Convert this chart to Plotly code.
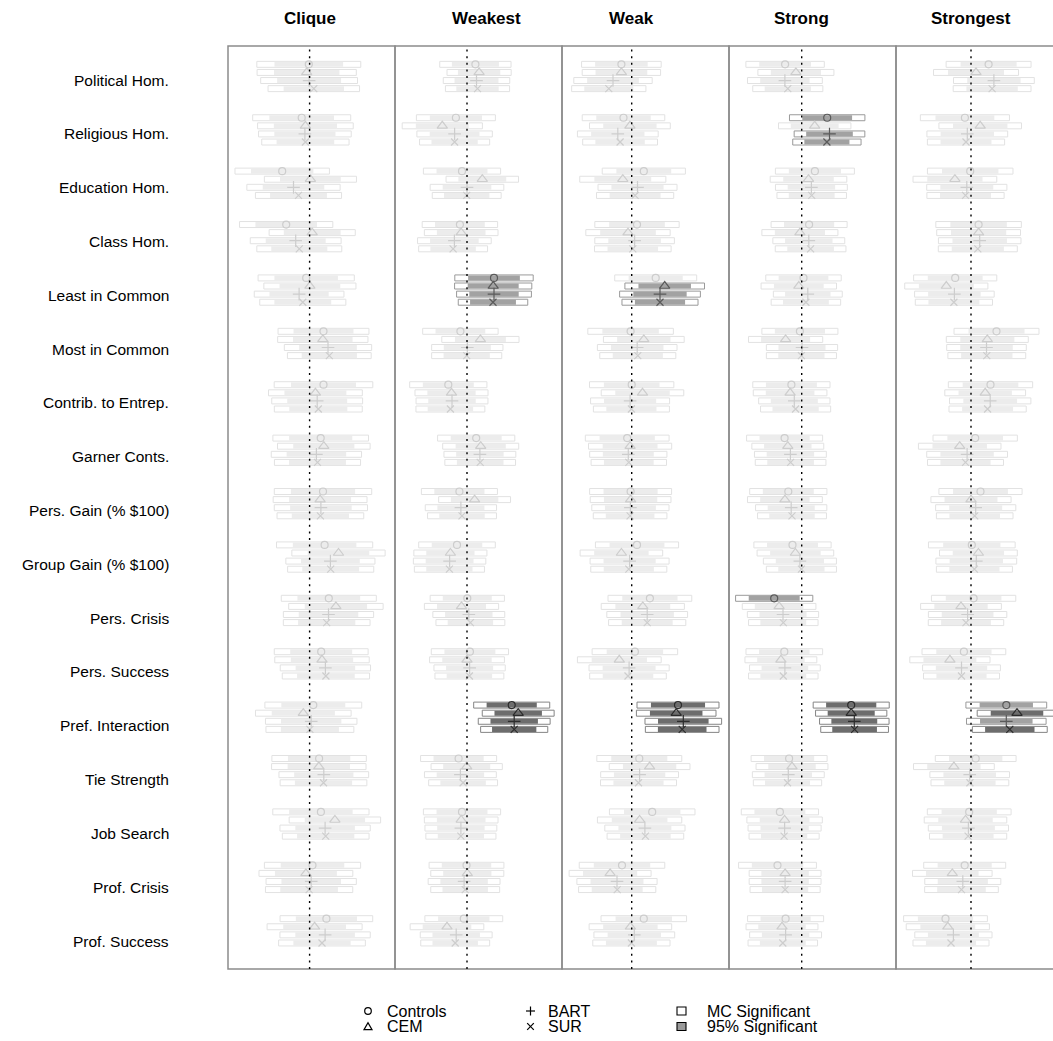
import plotly.graph_objects as go

# ---------------------------------------------------------------------------
# Data: treatment effects of each tie type on 17 outcomes, estimated four ways
# ---------------------------------------------------------------------------
OUTCOMES = [
    "Political Hom.", "Religious Hom.", "Education Hom.", "Class Hom.",
    "Least in Common", "Most in Common", "Contrib. to Entrep.", "Garner Conts.",
    "Pers. Gain (% $100)", "Group Gain (% $100)", "Pers. Crisis", "Pers. Success",
    "Pref. Interaction", "Tie Strength", "Job Search", "Prof. Crisis", "Prof. Success",
]
PANELS = ["Clique", "Weakest", "Weak", "Strong", "Strongest"]
METHODS = ["Controls", "CEM", "BART", "SUR"]

# point estimates: one row per outcome, columns ordered as METHODS
clique_est = [
    [-0.008, -0.029, -0.005, 0.042], [-0.079, -0.042, -0.047, -0.042],
    [-0.274, 0.008, -0.161, -0.111], [-0.234, 0.026, -0.139, -0.103],
    [-0.034, 0.003, -0.105, -0.068], [0.139, 0.132, 0.184, 0.197],
    [0.139, 0.058, 0.076, 0.087], [0.111, 0.142, 0.068, 0.079],
    [0.134, 0.105, 0.113, 0.108], [0.150, 0.289, 0.208, 0.211],
    [0.192, 0.263, 0.189, 0.171], [0.116, 0.124, 0.158, 0.163],
    [0.037, -0.063, 0.016, 0.003], [0.095, 0.092, 0.142, 0.139],
    [0.113, 0.253, 0.155, 0.161], [0.029, -0.037, 0.016, -0.005],
    [0.168, 0.050, 0.155, 0.124],
]
clique_se = [
    [0.175, 0.167, 0.163, 0.154], [0.165, 0.161, 0.156, 0.147],
    [0.159, 0.155, 0.157, 0.145], [0.157, 0.145, 0.153, 0.143],
    [0.162, 0.155, 0.151, 0.145], [0.153, 0.152, 0.147, 0.141],
    [0.166, 0.158, 0.153, 0.148], [0.161, 0.156, 0.152, 0.145],
    [0.164, 0.158, 0.157, 0.146], [0.162, 0.157, 0.150, 0.145],
    [0.160, 0.159, 0.152, 0.146], [0.158, 0.159, 0.152, 0.147],
    [0.163, 0.161, 0.154, 0.148], [0.159, 0.159, 0.151, 0.146],
    [0.162, 0.154, 0.152, 0.146], [0.162, 0.158, 0.152, 0.147],
    [0.156, 0.160, 0.152, 0.146],
]

weakest_est = [
    [0.084, 0.121, 0.095, 0.105], [-0.111, -0.247, -0.124, -0.124],
    [-0.050, 0.153, 0.000, -0.003], [-0.071, -0.058, -0.126, -0.139],
    [0.270, 0.262, 0.270, 0.260], [-0.066, 0.134, 0.003, -0.003],
    [-0.187, -0.155, -0.150, -0.166], [0.092, 0.137, 0.129, 0.132],
    [-0.076, 0.076, -0.061, -0.050], [-0.100, -0.166, -0.174, -0.176],
    [0.003, -0.055, 0.018, 0.034], [0.029, 0.000, 0.026, 0.024],
    [0.447, 0.512, 0.472, 0.472], [-0.084, -0.003, -0.066, -0.039],
    [-0.050, -0.058, -0.061, -0.061], [-0.005, 0.003, -0.029, -0.018],
    [-0.032, -0.200, -0.108, -0.118],
]
weakest_se = [
    [0.120, 0.108, 0.112, 0.108], [0.133, 0.135, 0.127, 0.118],
    [0.130, 0.122, 0.124, 0.116], [0.127, 0.124, 0.124, 0.116],
    [0.132, 0.130, 0.126, 0.117], [0.127, 0.130, 0.120, 0.118],
    [0.130, 0.123, 0.121, 0.116], [0.130, 0.128, 0.121, 0.119],
    [0.128, 0.121, 0.120, 0.116], [0.129, 0.123, 0.122, 0.118],
    [0.125, 0.125, 0.121, 0.116], [0.130, 0.126, 0.120, 0.116],
    [0.128, 0.121, 0.121, 0.113], [0.128, 0.120, 0.121, 0.116],
    [0.130, 0.124, 0.121, 0.118], [0.126, 0.123, 0.121, 0.116],
    [0.131, 0.124, 0.121, 0.116],
]

weak_est = [
    [-0.103, -0.103, -0.187, -0.229], [-0.082, -0.018, -0.139, -0.116],
    [0.121, -0.089, 0.058, 0.034], [0.053, -0.037, 0.029, 0.011],
    [0.240, 0.330, 0.283, 0.283], [-0.011, 0.121, 0.055, 0.061],
    [0.000, 0.108, -0.016, -0.003], [-0.045, -0.016, -0.034, -0.029],
    [-0.011, -0.011, -0.013, -0.016], [0.053, -0.103, -0.021, -0.029],
    [0.182, 0.111, 0.155, 0.155], [0.032, -0.124, -0.026, -0.037],
    [0.463, 0.445, 0.516, 0.505], [0.076, 0.179, 0.079, 0.068],
    [0.205, 0.079, 0.132, 0.137], [-0.097, -0.216, -0.147, -0.145],
    [0.121, -0.013, 0.026, -0.003],
]
weak_se = [
    [0.134, 0.132, 0.132, 0.125], [0.139, 0.136, 0.136, 0.126],
    [0.140, 0.145, 0.133, 0.130], [0.142, 0.142, 0.134, 0.129],
    [0.138, 0.134, 0.136, 0.128], [0.144, 0.136, 0.134, 0.128],
    [0.142, 0.139, 0.133, 0.128], [0.141, 0.140, 0.130, 0.127],
    [0.138, 0.136, 0.130, 0.124], [0.140, 0.139, 0.133, 0.128],
    [0.141, 0.140, 0.136, 0.130], [0.144, 0.141, 0.135, 0.129],
    [0.138, 0.134, 0.129, 0.124], [0.143, 0.136, 0.131, 0.128],
    [0.144, 0.142, 0.135, 0.129], [0.144, 0.138, 0.135, 0.130],
    [0.144, 0.139, 0.136, 0.130],
]

strong_est = [
    [-0.166, -0.058, -0.168, -0.139], [0.255, 0.130, 0.278, 0.252],
    [0.132, 0.068, 0.097, 0.100], [0.074, -0.018, 0.071, 0.089],
    [0.018, -0.029, 0.061, 0.042], [-0.018, -0.161, 0.003, -0.003],
    [-0.103, -0.116, -0.074, -0.061], [-0.171, -0.139, -0.113, -0.111],
    [-0.134, -0.168, -0.105, -0.097], [-0.092, -0.063, -0.018, -0.003],
    [-0.275, -0.226, -0.187, -0.184], [-0.174, -0.208, -0.168, -0.184],
    [0.495, 0.495, 0.526, 0.529], [-0.126, -0.097, -0.134, -0.142],
    [-0.218, -0.171, -0.171, -0.176], [-0.242, -0.166, -0.166, -0.166],
    [-0.161, -0.197, -0.161, -0.189],
]
strong_se = [
    [0.132, 0.128, 0.126, 0.118], [0.127, 0.122, 0.119, 0.115],
    [0.133, 0.129, 0.121, 0.117], [0.128, 0.128, 0.121, 0.119],
    [0.127, 0.127, 0.116, 0.117], [0.128, 0.125, 0.120, 0.118],
    [0.130, 0.124, 0.120, 0.118], [0.128, 0.121, 0.121, 0.119],
    [0.130, 0.126, 0.120, 0.116], [0.130, 0.129, 0.123, 0.118],
    [0.130, 0.124, 0.120, 0.117], [0.129, 0.121, 0.119, 0.117],
    [0.128, 0.120, 0.117, 0.114], [0.128, 0.121, 0.121, 0.115],
    [0.130, 0.127, 0.123, 0.118], [0.131, 0.121, 0.121, 0.118],
    [0.128, 0.121, 0.121, 0.117],
]

strongest_est = [
    [0.176, 0.050, 0.229, 0.211], [-0.061, 0.092, -0.037, -0.050],
    [-0.008, -0.161, -0.042, -0.055], [0.076, 0.076, 0.087, 0.068],
    [-0.158, -0.247, -0.166, -0.171], [0.255, 0.163, 0.155, 0.158],
    [0.195, 0.142, 0.192, 0.166], [0.042, -0.113, -0.039, -0.055],
    [0.095, 0.000, 0.047, 0.037], [0.008, 0.074, 0.053, 0.034],
    [0.026, -0.100, -0.034, -0.050], [-0.071, -0.211, -0.095, -0.095],
    [0.353, 0.460, 0.353, 0.388], [0.047, -0.171, -0.013, -0.011],
    [-0.018, -0.055, -0.026, -0.029], [-0.063, -0.187, -0.082, -0.095],
    [-0.255, -0.232, -0.176, -0.200],
]
strongest_se = [
    [0.143, 0.143, 0.136, 0.131], [0.150, 0.139, 0.136, 0.130],
    [0.144, 0.141, 0.135, 0.130], [0.144, 0.141, 0.139, 0.133],
    [0.140, 0.140, 0.134, 0.130], [0.143, 0.138, 0.134, 0.131],
    [0.142, 0.136, 0.137, 0.130], [0.142, 0.139, 0.136, 0.128],
    [0.140, 0.135, 0.135, 0.129], [0.146, 0.131, 0.136, 0.128],
    [0.142, 0.136, 0.132, 0.127], [0.141, 0.135, 0.131, 0.128],
    [0.136, 0.134, 0.134, 0.126], [0.136, 0.136, 0.134, 0.131],
    [0.141, 0.139, 0.135, 0.130], [0.138, 0.134, 0.128, 0.124],
    [0.141, 0.140, 0.130, 0.128],
]

PANEL_EST = [clique_est, weakest_est, weak_est, strong_est, strongest_est]
PANEL_SE = [clique_se, weakest_se, weak_se, strong_se, strongest_se]

# interval multipliers: plain 95% and Bonferroni-corrected over 17 outcomes
Z95 = 1.96
ZMC = 2.97

# ---------------------------------------------------------------------------
# Styling
# ---------------------------------------------------------------------------
FONT = "Liberation Sans, Arial, Helvetica, sans-serif"
SYMBOLS = ["circle-open", "triangle-up-open", "cross-thin-open", "x-thin-open"]
SYMBOL_SIZES = [7, 9, 9, 7]
ROW_OFFSETS = [-0.2275, -0.0758, 0.0758, 0.2275]
BOX_H = 0.112
INNER_H = 0.094

# index 0: not significant, 1: 95% only, 2: survives the MC correction
OUTER_LINE = ["#e2e2e2", "#9a9a9a", "#858585"]
INNER_FILL = ["#ececec", "#a2a2a2", "#6d6d6d"]
MARK_COLOR = ["#cdcdcd", "#5a5a5a", "#2c2c2c"]

W, H = 1053, 1041
M_L, M_R, M_T, M_B = 228, 0, 46, 72
PLOT_W = W - M_L - M_R
PLOT_H = H - M_T - M_B
PANEL_PX = 167
X_RANGES = [[-0.816, 0.854], [-0.72, 0.95], [-0.697, 0.973],
            [-0.727, 0.943], [-0.75, 0.82]]
TITLE_X = [0, 0.19, 0, 0, 0]     # title centre, in each panel's x units
Y_RANGE = [17.715, 0.429]        # estimate rows
LABEL_Y_RANGE = [17.52, 0.368]   # outcome labels on the left margin


def sig_class(est, se):
    if abs(est) - ZMC * se > 0:
        return 2
    if abs(est) - Z95 * se > 0:
        return 1
    return 0


def px_x(px):
    return (px - M_L) / PLOT_W


def px_y(py):
    return (M_T + PLOT_H - py) / PLOT_H


fig = go.Figure()

for p in range(len(PANELS)):
    xa = "x" if p == 0 else f"x{p + 1}"
    est_tab, se_tab = PANEL_EST[p], PANEL_SE[p]
    ys, base_o, len_o, base_i, len_i, cls = [], [], [], [], [], []
    for r in range(len(OUTCOMES)):
        for m in range(len(METHODS)):
            e, s = est_tab[r][m], se_tab[r][m]
            ys.append(r + 1 + ROW_OFFSETS[m])
            base_o.append(e - ZMC * s)
            len_o.append(2 * ZMC * s)
            base_i.append(e - Z95 * s)
            len_i.append(2 * Z95 * s)
            cls.append(sig_class(e, s))

    fig.add_trace(go.Bar(
        orientation="h", y=ys, x=len_o, base=base_o, width=BOX_H,
        marker=dict(color="white",
                    line=dict(color=[OUTER_LINE[c] for c in cls], width=1)),
        xaxis=xa, yaxis="y", hoverinfo="skip",
    ))
    fig.add_trace(go.Bar(
        orientation="h", y=ys, x=len_i, base=base_i, width=INNER_H,
        marker=dict(color=[INNER_FILL[c] for c in cls], line=dict(width=0)),
        xaxis=xa, yaxis="y", hoverinfo="skip",
    ))
    for m in range(len(METHODS)):
        xs = [est_tab[r][m] for r in range(len(OUTCOMES))]
        yy = [r + 1 + ROW_OFFSETS[m] for r in range(len(OUTCOMES))]
        cc = [MARK_COLOR[sig_class(est_tab[r][m], se_tab[r][m])]
              for r in range(len(OUTCOMES))]
        fig.add_trace(go.Scatter(
            x=xs, y=yy, mode="markers", xaxis=xa, yaxis="y",
            marker=dict(symbol=SYMBOLS[m], size=SYMBOL_SIZES[m], color=cc,
                        line=dict(width=1.2)),
            hoverinfo="skip",
        ))

layout = dict(
    width=W, height=H, margin=dict(l=M_L, r=M_R, t=M_T, b=M_B),
    paper_bgcolor="white", plot_bgcolor="white",
    barmode="overlay", showlegend=False,
    font=dict(family=FONT, color="black"),
    yaxis=dict(range=Y_RANGE, visible=False, domain=[0, 1], anchor="x",
               fixedrange=True),
    yaxis6=dict(range=LABEL_Y_RANGE, visible=False, domain=[0, 1],
                overlaying="y", anchor="x", fixedrange=True),
)
for p in range(len(PANELS)):
    key = "xaxis" if p == 0 else f"xaxis{p + 1}"
    d0 = p * PANEL_PX / PLOT_W
    d1 = min(1.0, (p + 1) * PANEL_PX / PLOT_W)
    layout[key] = dict(domain=[d0, d1], range=X_RANGES[p], visible=False,
                       anchor="y", fixedrange=True)
fig.update_layout(**layout)

shapes = []
annotations = []

# panel frames, zero reference lines and panel titles
for p in range(len(PANELS)):
    xa = "x" if p == 0 else f"x{p + 1}"
    shapes.append(dict(type="rect", xref="paper", yref="paper",
                       x0=p * PANEL_PX / PLOT_W, x1=(p + 1) * PANEL_PX / PLOT_W,
                       y0=0, y1=1, line=dict(color="#8c8c8c", width=1.5),
                       layer="above"))
    shapes.append(dict(type="line", xref=xa, yref="paper", x0=0, x1=0,
                       y0=0, y1=1,
                       line=dict(color="black", width=1.4, dash="2px,4.6px"),
                       layer="above"))
    annotations.append(dict(
        text=f"<b>{PANELS[p]}</b>", xref=xa, yref="paper",
        x=TITLE_X[p], y=px_y(19), showarrow=False,
        xanchor="center", yanchor="middle",
        font=dict(size=17, family=FONT, color="black")))

# outcome labels
for r, name in enumerate(OUTCOMES):
    annotations.append(dict(
        text=name, xref="paper", yref="y6", x=px_x(171), y=r + 1,
        showarrow=False, xanchor="right", yanchor="middle",
        font=dict(size=15.5, family=FONT, color="black")))

# key below the panels
ROW1, ROW2 = px_y(1011), px_y(1026.5)
SYM_X = [px_x(368), px_x(530.5), px_x(681.5)]
TXT_X = [px_x(384.5), px_x(546), px_x(704.5)]
KEY_TEXT = [("Controls", "CEM"), ("BART", "SUR"),
            ("MC Significant", "95% Significant")]
for c in range(3):
    for k, yy in enumerate((ROW1, ROW2)):
        annotations.append(dict(
            text=KEY_TEXT[c][k], xref="paper", yref="paper", x=TXT_X[c], y=yy,
            showarrow=False, xanchor="left", yanchor="middle",
            font=dict(size=16, family=FONT, color="black")))

pix = dict(xref="paper", yref="paper", xsizemode="pixel", ysizemode="pixel")
key_line = dict(color="black", width=1.2)
shapes.append(dict(type="circle", xanchor=SYM_X[0], yanchor=ROW1,
                   x0=-3.3, x1=3.3, y0=-3.3, y1=3.3, line=key_line, **pix))
shapes.append(dict(type="path", xanchor=SYM_X[0], yanchor=ROW2,
                   path="M -4,-3.2 L 4,-3.2 L 0,3.8 Z", line=key_line, **pix))
shapes.append(dict(type="line", xanchor=SYM_X[1], yanchor=ROW1,
                   x0=-4.5, x1=4.5, y0=0, y1=0, line=key_line, **pix))
shapes.append(dict(type="line", xanchor=SYM_X[1], yanchor=ROW1,
                   x0=0, x1=0, y0=-4.5, y1=4.5, line=key_line, **pix))
shapes.append(dict(type="line", xanchor=SYM_X[1], yanchor=ROW2,
                   x0=-3.3, x1=3.3, y0=-3.3, y1=3.3, line=key_line, **pix))
shapes.append(dict(type="line", xanchor=SYM_X[1], yanchor=ROW2,
                   x0=-3.3, x1=3.3, y0=3.3, y1=-3.3, line=key_line, **pix))
shapes.append(dict(type="rect", xanchor=SYM_X[2], yanchor=ROW1,
                   x0=-4.5, x1=4.5, y0=-4, y1=4, fillcolor="white",
                   line=dict(color="black", width=1.1), **pix))
shapes.append(dict(type="rect", xanchor=SYM_X[2], yanchor=ROW2,
                   x0=-4.5, x1=4.5, y0=-4, y1=4, fillcolor="#9a9a9a",
                   line=dict(color="black", width=1.1), **pix))

fig.update_layout(shapes=shapes, annotations=annotations)
fig.write_html("out.html")
